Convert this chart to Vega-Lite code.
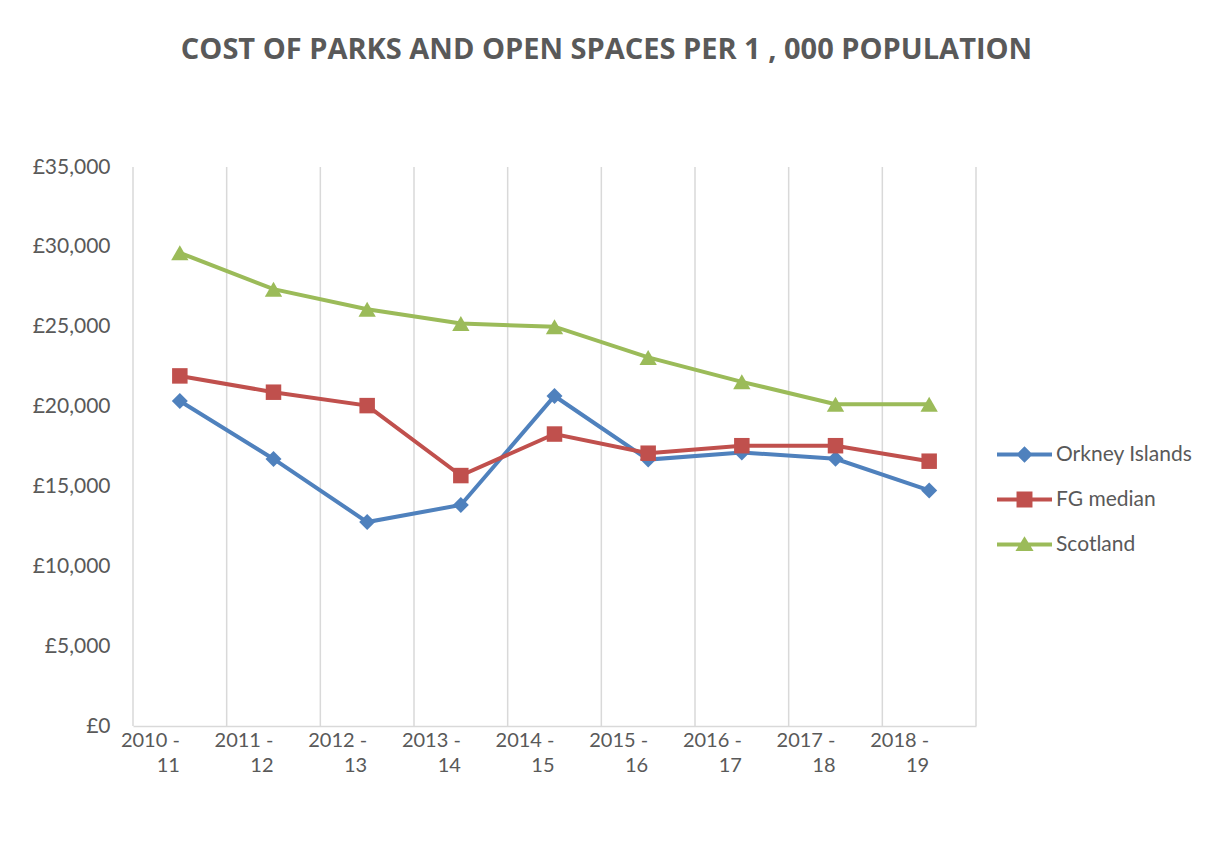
{
  "$schema": "https://vega.github.io/schema/vega-lite/v6.json",
  "width": 843,
  "height": 559,
  "autosize": {"type": "none"},
  "padding": {"left": 133, "top": 167, "right": 230, "bottom": 117},
  "background": "white",
  "title": {
    "text": "COST OF  PARKS AND OPEN SPACES PER 1 , 000   POPULATION",
    "font": "Open Sans",
    "fontSize": 29,
    "fontWeight": "bold",
    "color": "#595959",
    "anchor": "middle",
    "dx": 52,
    "offset": 91
  },
  "data": {
    "values": [
      {"period": "2010-11", "series": "Orkney Islands", "value": 20350},
      {"period": "2011-12", "series": "Orkney Islands", "value": 16720},
      {"period": "2012-13", "series": "Orkney Islands", "value": 12770},
      {"period": "2013-14", "series": "Orkney Islands", "value": 13840},
      {"period": "2014-15", "series": "Orkney Islands", "value": 20660},
      {"period": "2015-16", "series": "Orkney Islands", "value": 16680},
      {"period": "2016-17", "series": "Orkney Islands", "value": 17130},
      {"period": "2017-18", "series": "Orkney Islands", "value": 16730},
      {"period": "2018-19", "series": "Orkney Islands", "value": 14750},
      {"period": "2010-11", "series": "FG median", "value": 21920},
      {"period": "2011-12", "series": "FG median", "value": 20900},
      {"period": "2012-13", "series": "FG median", "value": 20060},
      {"period": "2013-14", "series": "FG median", "value": 15680},
      {"period": "2014-15", "series": "FG median", "value": 18280},
      {"period": "2015-16", "series": "FG median", "value": 17080},
      {"period": "2016-17", "series": "FG median", "value": 17550},
      {"period": "2017-18", "series": "FG median", "value": 17550},
      {"period": "2018-19", "series": "FG median", "value": 16580},
      {"period": "2010-11", "series": "Scotland", "value": 29630},
      {"period": "2011-12", "series": "Scotland", "value": 27350},
      {"period": "2012-13", "series": "Scotland", "value": 26090},
      {"period": "2013-14", "series": "Scotland", "value": 25200},
      {"period": "2014-15", "series": "Scotland", "value": 25000},
      {"period": "2015-16", "series": "Scotland", "value": 23080},
      {"period": "2016-17", "series": "Scotland", "value": 21550},
      {"period": "2017-18", "series": "Scotland", "value": 20150},
      {"period": "2018-19", "series": "Scotland", "value": 20150}
    ]
  },
  "layer": [
    {
      "transform": [{"filter": "datum.series === 'Scotland'"}],
      "mark": {"type": "rule", "color": "#d9d9d9", "strokeWidth": 1.5},
      "encoding": {
        "x": {"field": "period", "type": "nominal", "sort": null, "bandPosition": 0}
      }
    },
    {
      "transform": [{"filter": "datum.series === 'Scotland' && datum.period === '2018-19'"}],
      "mark": {"type": "rule", "color": "#d9d9d9", "strokeWidth": 1.5},
      "encoding": {
        "x": {"field": "period", "type": "nominal", "sort": null, "bandPosition": 1}
      }
    },
    {
      "mark": {"type": "line", "strokeWidth": 4},
      "encoding": {
        "x": {
          "field": "period",
          "type": "nominal",
          "sort": null,
          "title": null,
          "scale": {"type": "band", "paddingInner": 0, "paddingOuter": 0},
          "axis": {
            "grid": false,
            "ticks": false,
            "domain": true,
            "domainColor": "#d9d9d9",
            "domainWidth": 1.5,
            "labelAngle": 0,
            "labelFont": "Lato",
            "labelFontSize": 20,
            "labelColor": "#595959",
            "labelLineHeight": 25,
            "labelPadding": 14,
            "labelExpr": "[slice(datum.label, 0, 4) + ' -', slice(datum.label, 5)]"
          }
        },
        "y": {
          "field": "value",
          "type": "quantitative",
          "title": null,
          "scale": {"domain": [0, 35000]},
          "axis": {
            "values": [0, 5000, 10000, 15000, 20000, 25000, 30000, 35000],
            "grid": false,
            "ticks": false,
            "domain": false,
            "labelFont": "Lato",
            "labelFontSize": 21,
            "labelColor": "#595959",
            "labelPadding": 23,
            "labelExpr": "'£' + format(datum.value, ',')"
          }
        },
        "color": {
          "field": "series",
          "type": "nominal",
          "scale": {
            "domain": ["Orkney Islands", "FG median", "Scotland"],
            "range": ["#4F81BD", "#C0504D", "#9BBB59"]
          },
          "legend": {
            "orient": "none",
            "legendX": 864,
            "legendY": 260,
            "title": null,
            "symbolSize": 3025,
            "labelFont": "Lato",
            "labelFontSize": 21,
            "labelColor": "#595959",
            "labelOffset": 4,
            "rowPadding": 7,
            "encode": {
              "symbols": {
                "update": {
                  "shape": {"signal": "datum.value === 'Orkney Islands' ? 'M-1,-0.07H1V0.07H-1Z M0,-0.3L0.3,0L0,0.3L-0.3,0Z' : datum.value === 'FG median' ? 'M-1,-0.07H1V0.07H-1Z M-0.29,-0.29H0.29V0.29H-0.29Z' : 'M-1,-0.07H1V0.07H-1Z M0,-0.3L0.33,0.24H-0.33Z'"},
                  "fill": {"scale": "color", "field": "value"},
                  "stroke": {"value": "transparent"},
                  "strokeWidth": {"value": 0},
                  "opacity": {"value": 1}
                }
              }
            }
          }
        }
      }
    },
    {
      "transform": [{"filter": "datum.series === 'Orkney Islands'"}],
      "mark": {"type": "point", "shape": "diamond", "filled": true, "opacity": 1, "size": 256},
      "encoding": {
        "x": {"field": "period", "type": "nominal", "sort": null},
        "y": {"field": "value", "type": "quantitative"},
        "color": {"field": "series", "type": "nominal"}
      }
    },
    {
      "transform": [{"filter": "datum.series === 'FG median'"}],
      "mark": {"type": "point", "shape": "square", "filled": true, "opacity": 1, "size": 240},
      "encoding": {
        "x": {"field": "period", "type": "nominal", "sort": null},
        "y": {"field": "value", "type": "quantitative"},
        "color": {"field": "series", "type": "nominal"}
      }
    },
    {
      "transform": [{"filter": "datum.series === 'Scotland'"}],
      "mark": {"type": "point", "shape": "triangle-up", "filled": true, "opacity": 1, "size": 300},
      "encoding": {
        "x": {"field": "period", "type": "nominal", "sort": null},
        "y": {"field": "value", "type": "quantitative"},
        "color": {"field": "series", "type": "nominal"}
      }
    }
  ],
  "config": {"view": {"stroke": null}}
}
